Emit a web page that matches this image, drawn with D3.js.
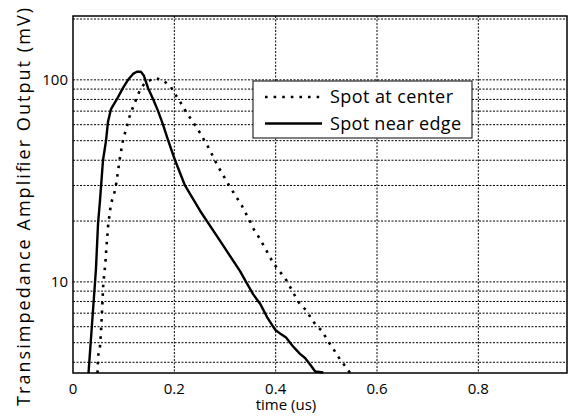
<!DOCTYPE html>
<html>
<head>
<meta charset="utf-8">
<script src="https://cdn.jsdelivr.net/npm/d3@7"></script>
<style>
  html, body { margin: 0; padding: 0; background: #fff; overflow: hidden; }
  svg { display: block; font-family: "Open Sans", sans-serif; }
</style>
</head>
<body>
<div id="chart"></div>
<script>
// time (us) and output (mV)
const centerTime = [0.0484, 0.0494, 0.0533, 0.0553, 0.0573, 0.0598, 0.0638, 0.0665, 0.0697, 0.075, 0.083, 0.0863, 0.0928, 0.0987, 0.106, 0.1125, 0.1185, 0.1258, 0.1323, 0.142, 0.162, 0.1777, 0.193, 0.198, 0.208, 0.2166, 0.2245, 0.2343, 0.2428, 0.2521, 0.2606, 0.2705, 0.277, 0.2849, 0.308, 0.333, 0.3495, 0.3573, 0.3658, 0.3726, 0.381, 0.389, 0.3974, 0.4073, 0.4186, 0.427, 0.435, 0.448, 0.4614, 0.4713, 0.481, 0.491, 0.501, 0.514, 0.527, 0.540, 0.547];
const centerMv = [3.54, 4.28, 4.8, 5.7, 7.2, 9.8, 12.3, 15.5, 19.4, 24.4, 28.4, 31.8, 41.4, 50.3, 58.4, 67, 73.4, 81.4, 89.2, 96.6, 102.3, 99.4, 92.6, 87.5, 80.2, 74.2, 68.3, 63.2, 58.6, 53.9, 49.3, 44.9, 41.3, 37.8, 30.0, 23.9, 19.9, 18.1, 16.8, 15.7, 14.4, 13.2, 12.2, 11.3, 10.45, 9.6, 8.8, 7.74, 7.2, 6.5, 6.05, 5.74, 5.2, 4.65, 4.13, 3.75, 3.54];

const edgeTime = [0.0306, 0.0434, 0.0454, 0.0494, 0.0533, 0.0592, 0.0652, 0.069, 0.075, 0.0869, 0.0987, 0.1086, 0.1185, 0.126, 0.134, 0.140, 0.148, 0.158, 0.168, 0.178, 0.1876, 0.2014, 0.221, 0.2507, 0.290, 0.3297, 0.3435, 0.3554, 0.3692, 0.383, 0.3988, 0.411, 0.4205, 0.434, 0.448, 0.458, 0.468, 0.478, 0.494];
const edgeMv = [3.54, 9.9, 11.7, 19.4, 25.3, 40, 50, 61.8, 71.7, 80.4, 91.2, 100, 107, 109.6, 109.6, 104.7, 91.2, 80.4, 70, 59.7, 50.3, 40, 30, 22.5, 16, 11.3, 9.8, 8.7, 7.8, 6.7, 5.8, 5.5, 5.3, 4.8, 4.4, 4.2, 3.9, 3.6, 3.56];

const xTicks = [0, 0.2, 0.4, 0.6, 0.8];
const xTickLabels = ["0", "0.2", "0.4", "0.6", "0.8"];
const yGrid = [4, 5, 6, 7, 8, 9, 10, 20, 30, 40, 50, 60, 70, 80, 90, 100, 200];
const yTickLabels = [10, 100];
const seriesNames = ["Spot at center", "Spot near edge"];

const width = 568;
const height = 418;
const margin = { top: 16, right: 1, bottom: 45, left: 73 };
const innerWidth = width - margin.left - margin.right;
const innerHeight = height - margin.top - margin.bottom;

const svg = d3.select("#chart").append("svg")
  .attr("width", width)
  .attr("height", height);

const g = svg.append("g")
  .attr("transform", "translate(" + margin.left + "," + margin.top + ")");

const x = d3.scaleLinear().domain([0, 0.975]).range([0, innerWidth]);
const y = d3.scaleLog().domain([3.54, 207]).range([innerHeight, 0]);

// grid
g.selectAll(".hgrid").data(yGrid).enter().append("line")
  .attr("x1", 0).attr("x2", innerWidth)
  .attr("y1", (d) => y(d)).attr("y2", (d) => y(d))
  .attr("stroke", "#000").attr("stroke-width", 1)
  .attr("stroke-dasharray", "2,1.5");

g.selectAll(".vgrid").data(xTicks.slice(1)).enter().append("line")
  .attr("x1", (d) => x(d)).attr("x2", (d) => x(d))
  .attr("y1", 0).attr("y2", innerHeight)
  .attr("stroke", "#000").attr("stroke-width", 1)
  .attr("stroke-dasharray", "2,1.5");

// tick labels
g.selectAll(".xl").data(xTicks).enter().append("text")
  .attr("x", (d) => x(d))
  .attr("y", innerHeight + 21)
  .attr("text-anchor", "middle")
  .style("font-size", "15px")
  .text((d, i) => xTickLabels[i]);

g.selectAll(".yl").data(yTickLabels).enter().append("text")
  .attr("x", -5)
  .attr("y", (d) => y(d) + 5)
  .attr("text-anchor", "end")
  .style("font-size", "15px")
  .text((d) => d);

// series
const line = d3.line()
  .x((d) => x(d[0]))
  .y((d) => y(d[1]));

g.append("path")
  .datum(d3.zip(centerTime, centerMv))
  .attr("fill", "none")
  .attr("stroke", "#000")
  .attr("stroke-width", 2.6)
  .attr("stroke-dasharray", "2.6,6")
  .attr("d", line);

g.append("path")
  .datum(d3.zip(edgeTime, edgeMv))
  .attr("fill", "none")
  .attr("stroke", "#000")
  .attr("stroke-width", 2.4)
  .attr("stroke-linejoin", "round")
  .attr("d", line);

// frame
g.append("rect")
  .attr("width", innerWidth)
  .attr("height", innerHeight)
  .attr("fill", "none")
  .attr("stroke", "#000")
  .attr("stroke-width", 1.5);

// axis titles
svg.append("text")
  .attr("x", 286)
  .attr("y", 410)
  .attr("text-anchor", "middle")
  .style("font-size", "15px")
  .text("time (us)");

svg.append("text")
  .attr("transform", "translate(30,207) rotate(-90)")
  .attr("text-anchor", "middle")
  .attr("textLength", 398)
  .attr("lengthAdjust", "spacing")
  .style("font-size", "18px")
  .text("Transimpedance Amplifier Output (mV)");

// legend
const legend = svg.append("g").attr("transform", "translate(253,81)");
legend.append("rect")
  .attr("width", 219)
  .attr("height", 57)
  .attr("fill", "#fff")
  .attr("stroke", "#000")
  .attr("stroke-width", 1);

seriesNames.forEach((name, i) => {
  const ly = 16 + i * 26.5;
  legend.append("line")
    .attr("x1", 12).attr("x2", 69)
    .attr("y1", ly).attr("y2", ly)
    .attr("stroke", "#000")
    .attr("stroke-width", i === 0 ? 2.6 : 2.4)
    .attr("stroke-dasharray", i === 0 ? "2.6,6" : null);
  legend.append("text")
    .attr("x", 77)
    .attr("y", ly + 6)
    .attr("textLength", i === 0 ? 123 : 131)
    .attr("lengthAdjust", "spacing")
    .style("font-size", "18px")
    .text(name);
});
</script>
</body>
</html>
